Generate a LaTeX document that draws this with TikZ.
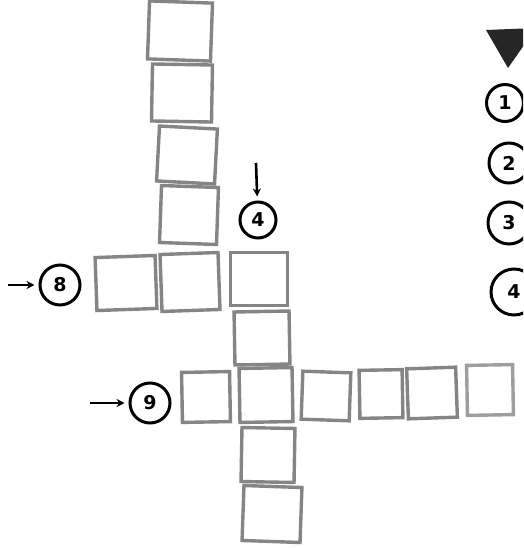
\documentclass[tikz,border=0pt]{standalone}
\usepackage{fontspec}
\setsansfont{DejaVu Sans}
\usetikzlibrary{arrows.meta}
\tikzset{
  cell/.style={draw=black!48, line width=3.4pt, minimum width=#1, inner sep=0pt},
  cell/.default=58pt,
  numc/.style={circle, draw=black, line width=3pt, inner sep=0pt, minimum size=#1,
    font=\sffamily\bfseries\fontsize{19}{19}\selectfont},
  numc/.default=40pt,
  pointer/.style={-{Stealth[length=8pt,width=8pt]}, line width=2.6pt, black, shorten >=4pt}
}
\begin{document}
\begin{tikzpicture}[x=1pt,y=-1pt]
\useasboundingbox (0,0) rectangle (523,548);
\clip (0,0) rectangle (523,548);
\fill[white] (0,0) rectangle (523,548);
% left column
\node[cell=63pt, minimum height=58pt, rotate=-2] (a1) at (180,31) {};
\node[cell=60pt, minimum height=57pt, rotate=-1] (a2) at (182,93) {};
\node[cell=58pt, minimum height=55pt, rotate=-3] (a3) at (187,155) {};
\node[cell=57pt, minimum height=57pt, rotate=-2] (a4) at (189,215) {};
\node[cell=58pt, minimum height=57pt, rotate=2] (a5) at (190,282) {};
\node[cell=60pt, minimum height=53pt, rotate=2] (b1) at (126,283) {};
% middle column
\node[cell=57pt, minimum height=53pt] (c1) at (259,279) {};
\node[cell=55pt, minimum height=53pt, rotate=1] (c2) at (262,338) {};
\node[cell=53pt, minimum height=54pt, rotate=1] (c3) at (266,395) {};
\node[cell=53pt, minimum height=54pt, rotate=-1] (c4) at (268,455) {};
\node[cell=58pt, minimum height=55pt, rotate=-2] (c5) at (272,514) {};
% row 9
\node[cell=48pt, minimum height=50pt, rotate=1] (r1) at (206,397) {};
\node[cell=48pt, minimum height=48pt, rotate=-2] (r3) at (326,396) {};
\node[cell=43pt, minimum height=48pt, rotate=1] (r4) at (381,394) {};
\node[cell=49pt, minimum height=50pt, rotate=2] (r5) at (432,393) {};
\node[cell=46pt, minimum height=50pt, draw=black!38, rotate=1] (r6) at (490,390) {};
% numbered circles
\node[numc=40pt] (n8) at (60,285) {8};
\node[numc=40pt] (n9) at (150,403) {9};
\node[numc=36pt] (n4) at (258,220) {4};
\node[numc=37pt] (k1) at (505,103) {1};
\node[numc=40pt] (k2) at (509,163) {2};
\node[numc=42pt] (k3) at (509,223) {3};
\node[numc=46pt] (k4) at (514,292) {4};
% arrows
\coordinate (s8) at (8,285);
\coordinate (s9) at (90,403);
\coordinate (s4) at (256,163);
\draw[pointer] (s8) -- (n8);
\draw[pointer] (s9) -- (n9);
\draw[pointer] (s4) -- (n4);
% triangle marker
\fill[black!85] (486,30) -- (536,28) -- (508,68) -- cycle;
\end{tikzpicture}
\end{document}
